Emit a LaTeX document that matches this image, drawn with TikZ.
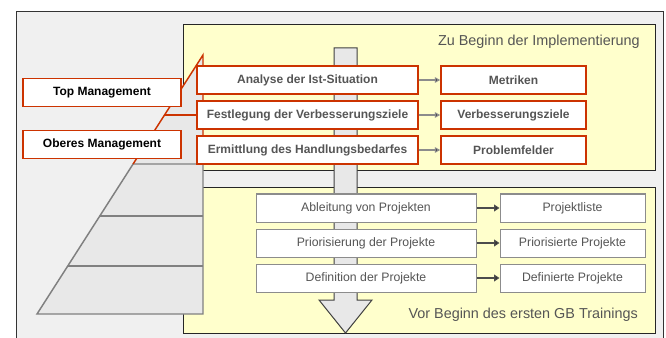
\documentclass[tikz,border=0pt]{standalone}
\usepackage{fontspec}
\setmainfont{Liberation Sans}
\usetikzlibrary{arrows.meta}
\definecolor{brick}{HTML}{CC3300}
\definecolor{paleyellow}{HTML}{FFFFCC}
\definecolor{panelgray}{HTML}{F0F0F0}
\definecolor{stepgray}{HTML}{E8E8E8}
\definecolor{textgray}{HTML}{555555}
\begin{document}
\begin{tikzpicture}[x=0.75pt, y=-0.75pt,
	phase/.style={
	rectangle, minimum height=21pt, inner sep=0pt,
	line width=1.1pt, draw=brick, fill=white, text=textgray,
	font=\fontsize{9}{10}\selectfont\bfseries},
	level/.style={phase, minimum width=118.5pt, text=black},
	task/.style={
	rectangle, minimum height=21pt, inner sep=0pt,
	line width=0.75pt, draw=black!45, fill=white, text=textgray,
	font=\fontsize{9.2}{10}\selectfont},
	zone/.style={draw=black!85, line width=0.75pt, fill=paleyellow},
	caption/.style={anchor=east, inner sep=0pt, text=textgray, font=\fontsize{10.8}{12}\selectfont},
	flow/.style={draw=black!75, line width=0.75pt, fill=stepgray},
	tier/.style={draw=black!50, line width=1.1pt},
	thin/.style={draw=black!45, line width=0.9pt, -{Triangle[length=4pt, width=4pt]}},
	thick/.style={draw=black!70, line width=1.5pt, -{Triangle[length=4pt, width=5pt]}}]
	\useasboundingbox (0,0) rectangle (666,338);
	\draw[draw=black!80, line width=0.75pt, fill=panelgray] (16,12) rectangle (663,345);
	\draw[zone] (183,25) rectangle (655,171);
	\draw[zone] (183,188) rectangle (655,333);
	\node[caption] (start) at (640,42) {Zu Beginn der Implementierung};
	\node[caption] (before) at (638,315) {Vor Beginn des ersten GB Trainings};
	\coordinate (tip) at (203,55);
	\coordinate (base) at (37,314);
	\coordinate (corner) at (203,314);
	\fill[stepgray] (tip) -- (corner) -- (base) -- cycle;
	\draw[tier] (133.1,164) -- (base) -- (corner) -- (203,164) -- cycle;
	\draw[tier] (99.8,216) -- (203,216);
	\draw[tier] (67.8,266) -- (203,266);
	\draw[tier, draw=brick] (133.1,164) -- (tip) -- (203,164);
	\draw[tier, draw=brick] (164.5,115) -- (203,115);
	\draw[flow] (334,48) -- (357,48) -- (357,300) -- (372,300) -- (345.5,333)
		-- (319,300) -- (334,300) -- cycle;
	\node[level] (top) at (102,92.5) {Top Management};
	\node[level] (upper) at (102,144.5) {Oberes Management};
	\node[phase, minimum width=165.75pt] (a1) at (307.5,80) {Analyse der Ist-Situation};
	\node[phase, minimum width=165.75pt] (a2) at (307.5,115) {Festlegung der Verbesserungsziele};
	\node[phase, minimum width=165.75pt] (a3) at (307.5,150) {Ermittlung des Handlungsbedarfes};
	\node[phase, minimum width=108.75pt] (b1) at (513.5,80) {Metriken};
	\node[phase, minimum width=108.75pt] (b2) at (513.5,115) {Verbesserungsziele};
	\node[phase, minimum width=108.75pt] (b3) at (513.5,150) {Problemfelder};
	\node[task, minimum width=165pt] (c1) at (366,208) {Ableitung von Projekten};
	\node[task, minimum width=165pt] (c2) at (366,243) {Priorisierung der Projekte};
	\node[task, minimum width=165pt] (c3) at (366,278) {Definition der Projekte};
	\node[task, minimum width=108.75pt] (d1) at (572.5,208) {Projektliste};
	\node[task, minimum width=108.75pt] (d2) at (572.5,243) {Priorisierte Projekte};
	\node[task, minimum width=108.75pt] (d3) at (572.5,278) {Definierte Projekte};
	\draw[thin]
				(a1) edge (b1)
				(a2) edge (b2)
				(a3) edge (b3);
	\draw[thick]
				(c1) edge (d1)
				(c2) edge (d2)
				(c3) edge (d3);
\end{tikzpicture}
\end{document}
